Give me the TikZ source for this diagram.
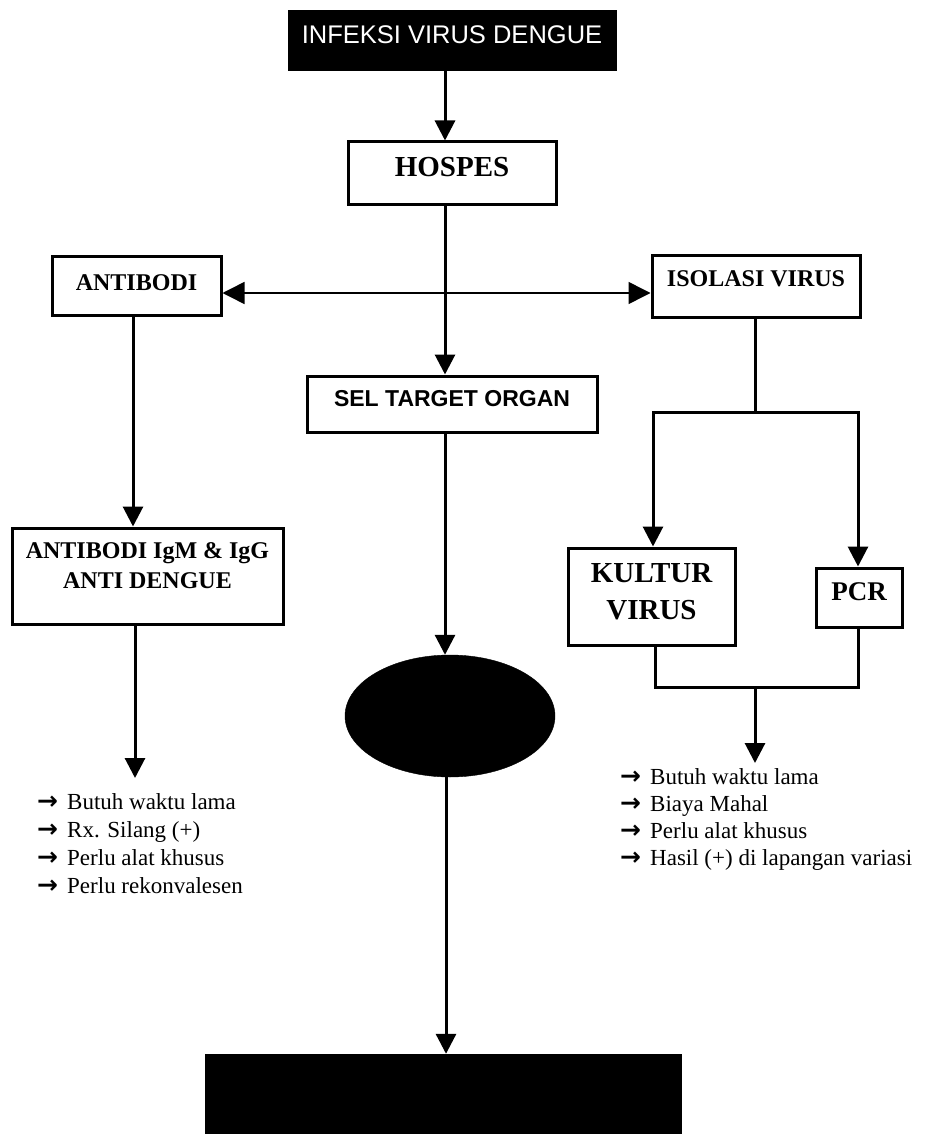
\documentclass[tikz,border=0pt]{standalone}
\usepackage{fontspec}
\setmainfont{Liberation Serif}
\setsansfont{Liberation Sans}
\newfontfamily\arrowfont{DejaVu Sans}
\usetikzlibrary{arrows.meta,shapes.geometric}
\newcommand\myarr{\makebox[30pt][l]{{\arrowfont\bfseries\fontsize{25}{28}\selectfont →}}}
\begin{document}
\begin{tikzpicture}[x=1pt,y=-1pt,
  box/.style={draw=black, line width=3pt, rectangle, inner sep=0pt, font=\bfseries},
  blackbox/.style={fill=black, draw=black, rectangle, inner sep=0pt},
  conn/.style={line width=3pt},
  arr/.style={line width=3pt, -{Triangle[length=20pt,width=20pt]}},
  thinarr/.style={line width=1.5pt, {Triangle[length=22pt,width=22pt]}-{Triangle[length=22pt,width=22pt]}},
  listtext/.style={anchor=base west, inner sep=0pt}
]
\useasboundingbox (0,0) rectangle (930,1134);
\fill[white] (0,0) rectangle (930,1134);

% nodes
\node[blackbox, minimum width=328pt, minimum height=60pt, text=white,
      font=\sffamily\fontsize{25.5}{30}\selectfont] (top) at (452,40)
  {\raisebox{-4pt}[0pt][0pt]{INFEKSI VIRUS DENGUE}};
\node[box, minimum width=208pt, minimum height=62pt,
      font=\bfseries\fontsize{29}{32}\selectfont] (hospes) at (452,173)
  {\raisebox{-3.6pt}[0pt][0pt]{HOSPES}};
\node[box, minimum width=169pt, minimum height=59pt,
      font=\bfseries\fontsize{24}{30}\selectfont] (antibodi) at (136.5,285.5)
  {\raisebox{-4.5pt}[0pt][0pt]{ANTIBODI}};
\node[box, minimum width=208pt, minimum height=62pt,
      font=\bfseries\fontsize{24}{30}\selectfont] (isolasi) at (756,286)
  {\raisebox{0pt}[0pt][0pt]{ISOLASI VIRUS}};
\node[box, minimum width=290pt, minimum height=56pt,
      font=\sffamily\bfseries\fontsize{23}{28}\selectfont] (sel) at (452,404)
  {\raisebox{-2.2pt}[0pt][0pt]{SEL TARGET ORGAN}};
\node[box, minimum width=271pt, minimum height=96pt,
      font=\bfseries\fontsize{24}{30}\selectfont] (igm) at (147.5,576)
  {\raisebox{18pt}[0pt][0pt]{\begin{tabular}[t]{@{}c@{}}ANTIBODI IgM \& IgG\\ANTI DENGUE\end{tabular}}};
\node[box, minimum width=167pt, minimum height=97pt,
      font=\bfseries\fontsize{29}{37}\selectfont] (kultur) at (651.5,596.5)
  {\raisebox{13.9pt}[0pt][0pt]{\begin{tabular}[t]{@{}c@{}}KULTUR\\VIRUS\end{tabular}}};
\node[box, minimum width=86pt, minimum height=59pt,
      font=\bfseries\fontsize{27}{32}\selectfont] (pcr) at (859,597.5)
  {\raisebox{-3.4pt}[0pt][0pt]{PCR}};
\node[ellipse, fill=black, draw=black, inner sep=0pt,
      minimum width=210pt, minimum height=122pt] (ellipse) at (450,716) {};
\node[blackbox, minimum width=476pt, minimum height=80pt] (bottom) at (443,1094) {};

% lists
\node[listtext, font=\fontsize{23}{28}\selectfont] (leftlist) at (37,809)
  {\begin{tabular}[t]{@{}l@{}}\myarr Butuh waktu lama\\ \myarr Rx. Silang (+)\\ \myarr Perlu alat khusus\\ \myarr Perlu rekonvalesen\end{tabular}};
\node[listtext, font=\fontsize{23}{27}\selectfont] (rightlist) at (620,784)
  {\begin{tabular}[t]{@{}l@{}}\myarr Butuh waktu lama\\ \myarr Biaya Mahal\\ \myarr Perlu alat khusus\\ \myarr Hasil (+) di lapangan variasi\end{tabular}};

% coordinates
\coordinate (spine) at (445,0);
\coordinate (hl) at (0,293);
\coordinate (lx) at (133,0);
\coordinate (leftTip) at (135,778);
\coordinate (bx) at (446,0);
\coordinate (rj) at (755,412);
\coordinate (kx) at (653,0);
\coordinate (px) at (858,0);
\coordinate (kb) at (655,687);
\coordinate (pb) at (858,687);
\coordinate (bj) at (755,687);
\coordinate (rightTip) at (755,763);

% connectors
\draw[arr] (top.south -| spine) -- (hospes.north -| spine);
\draw[arr] (hospes.south -| spine) -- (sel.north -| spine);
\draw[thinarr] (antibodi.east |- hl) -- (isolasi.west |- hl);
\draw[arr] (antibodi.south -| lx) -- (igm.north -| lx);
\draw[arr] (igm.south -| leftTip) -- (leftTip);
\draw[arr] (sel.south -| spine) -- (ellipse.north -| spine);
\draw[arr] (ellipse.south -| bx) -- (bottom.north -| bx);
\draw[conn] (isolasi.south -| rj) -- (rj);
\draw[arr] (rj) -| (kultur.north -| kx);
\draw[arr] (rj) -| (pcr.north -| px);
\draw[conn] (kultur.south -| kb) -- (kb) -- (pb) -- (pcr.south -| pb);
\draw[arr] (bj) -- (rightTip);
\end{tikzpicture}
\end{document}
